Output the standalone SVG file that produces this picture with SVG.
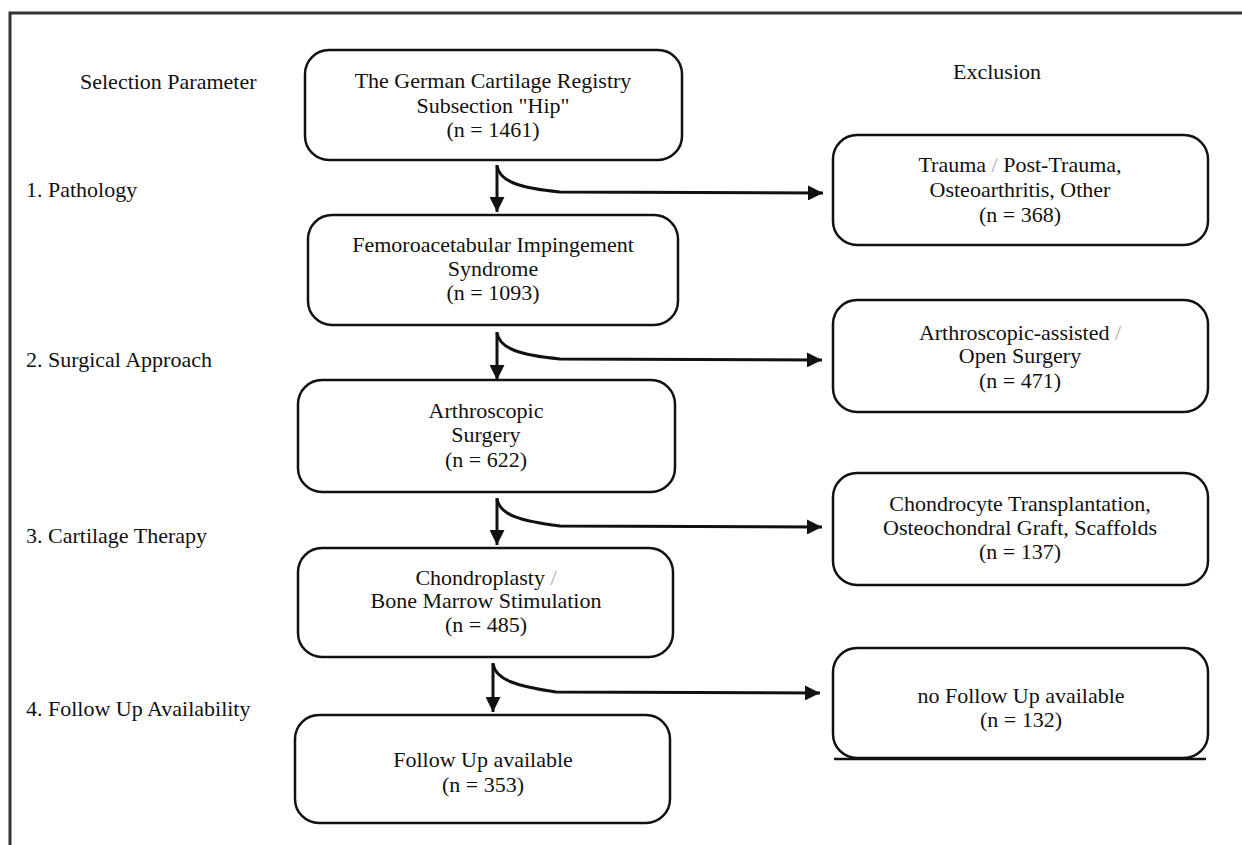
<svg xmlns="http://www.w3.org/2000/svg" width="1242" height="845" viewBox="0 0 1242 845">
<defs>
<style>
.box{fill:#fff;stroke:#111;stroke-width:2.5}
.t{font-family:"Liberation Serif","Times New Roman",serif;font-size:22px;fill:#111}
.c{text-anchor:middle}
.g{fill:#aaa}
.ln{fill:none;stroke:#111;stroke-width:3}
.frame{fill:none;stroke:#333;stroke-width:3}
</style>
<marker id="ah" viewBox="0 0 10 10" refX="10" refY="5" markerWidth="15" markerHeight="15" markerUnits="userSpaceOnUse" orient="auto">
<path d="M0,0 L10,5 L0,10 Z" fill="#111"/>
</marker>
</defs>
<rect width="1242" height="845" fill="#fff"/>
<path class="frame" d="M10,845 L10,13 L1242,13"/>

<g id="labels">
<text class="t" x="80" y="89">Selection Parameter</text>
<text class="t" x="953" y="79">Exclusion</text>
<text class="t" x="26" y="197">1. Pathology</text>
<text class="t" x="26" y="367">2. Surgical Approach</text>
<text class="t" x="26" y="543">3. Cartilage Therapy</text>
<text class="t" x="26" y="716">4. Follow Up Availability</text>
</g>

<g id="n1">
<rect class="box" x="305" y="50" width="377" height="110" rx="24"/>
<text class="t c" x="493" y="88">The German Cartilage Registry</text>
<text class="t c" x="493" y="113">Subsection "Hip"</text>
<text class="t c" x="493" y="137">(n = 1461)</text>
</g>
<g id="n2">
<rect class="box" x="308" y="215" width="370" height="110" rx="24"/>
<text class="t c" x="493" y="252">Femoroacetabular Impingement</text>
<text class="t c" x="493" y="276">Syndrome</text>
<text class="t c" x="493" y="300">(n = 1093)</text>
</g>
<g id="n3">
<rect class="box" x="298" y="380" width="377" height="112" rx="24"/>
<text class="t c" x="486" y="418">Arthroscopic</text>
<text class="t c" x="486" y="442">Surgery</text>
<text class="t c" x="486" y="467">(n = 622)</text>
</g>
<g id="n4">
<rect class="box" x="298" y="548" width="375" height="109" rx="24"/>
<text class="t c" x="486" y="585">Chondroplasty <tspan class="g">/</tspan></text>
<text class="t c" x="486" y="608">Bone Marrow Stimulation</text>
<text class="t c" x="486" y="632">(n = 485)</text>
</g>
<g id="n5">
<rect class="box" x="295" y="715" width="375" height="108" rx="24"/>
<text class="t c" x="483" y="767">Follow Up available</text>
<text class="t c" x="483" y="792">(n = 353)</text>
</g>

<g id="e1">
<rect class="box" x="833" y="135" width="375" height="110" rx="24"/>
<text class="t c" x="1020" y="172">Trauma <tspan class="g">/</tspan> Post-Trauma,</text>
<text class="t c" x="1020" y="197">Osteoarthritis, Other</text>
<text class="t c" x="1020" y="222">(n = 368)</text>
</g>
<g id="e2">
<rect class="box" x="833" y="300" width="375" height="112" rx="24"/>
<text class="t c" x="1020" y="340">Arthroscopic-assisted <tspan class="g">/</tspan></text>
<text class="t c" x="1020" y="363">Open Surgery</text>
<text class="t c" x="1020" y="388">(n = 471)</text>
</g>
<g id="e3">
<rect class="box" x="833" y="473" width="375" height="112" rx="24"/>
<text class="t c" x="1020" y="511">Chondrocyte Transplantation,</text>
<text class="t c" x="1020" y="535">Osteochondral Graft, Scaffolds</text>
<text class="t c" x="1020" y="559">(n = 137)</text>
</g>
<g id="e4">
<rect class="box" x="833" y="648" width="375" height="110" rx="24"/>
<text class="t c" x="1021" y="703">no Follow Up available</text>
<text class="t c" x="1021" y="727">(n = 132)</text>
<line x1="834" y1="759" x2="1206" y2="759" stroke="#111" stroke-width="2.5"/>
</g>

<g id="connectors">
<line class="ln" x1="497" y1="165" x2="497" y2="212" marker-end="url(#ah)"/>
<path class="ln" d="M497,166 C500,182 520,188 560,192 L823,193" marker-end="url(#ah)"/>
<line class="ln" x1="497" y1="332" x2="497" y2="380" marker-end="url(#ah)"/>
<path class="ln" d="M497,333 C500,349 520,355 560,359 L822,360" marker-end="url(#ah)"/>
<line class="ln" x1="497" y1="498" x2="497" y2="545" marker-end="url(#ah)"/>
<path class="ln" d="M497,499 C500,515 520,521 560,526 L822,527" marker-end="url(#ah)"/>
<line class="ln" x1="493" y1="663" x2="493" y2="712" marker-end="url(#ah)"/>
<path class="ln" d="M493,664 C496,680 516,686 556,692 L820,693" marker-end="url(#ah)"/>
</g>
</svg>
